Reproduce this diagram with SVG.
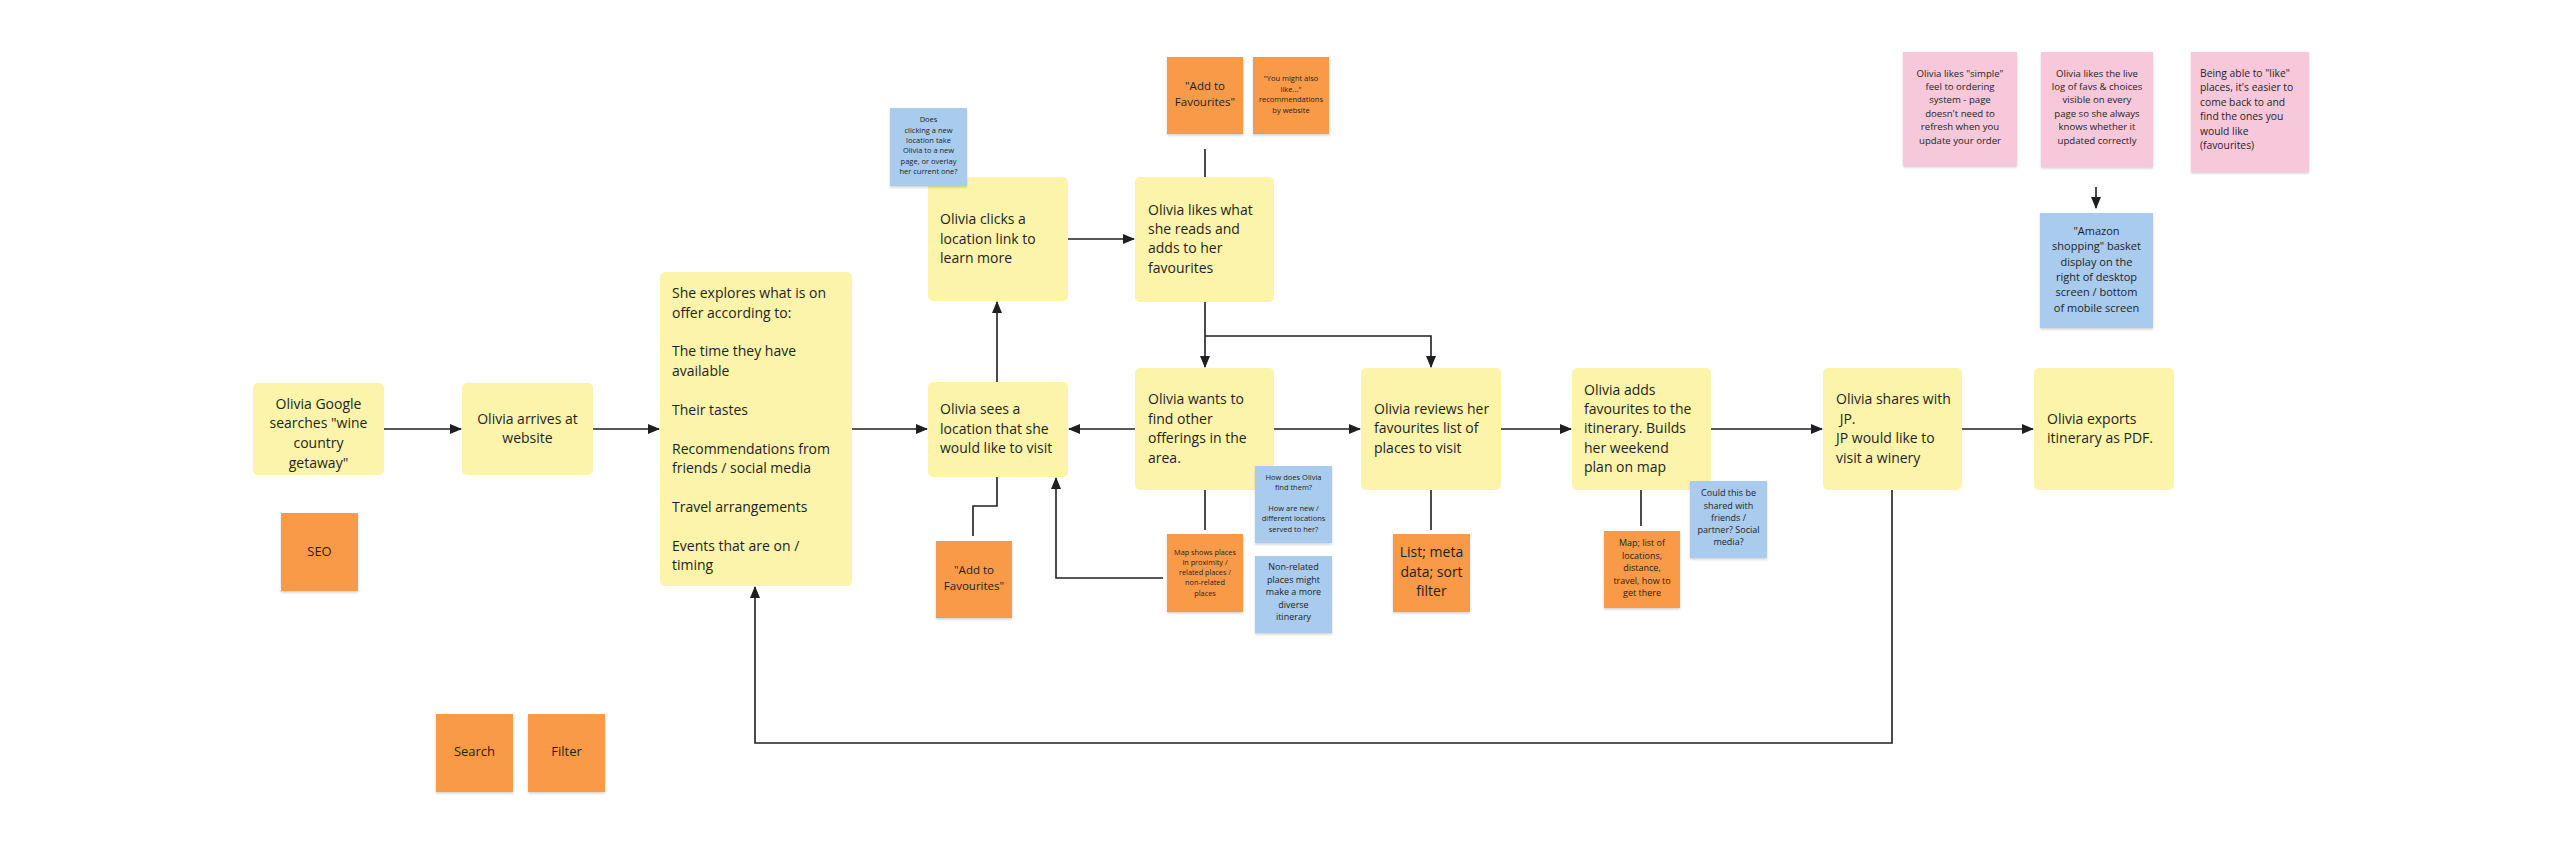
<svg xmlns="http://www.w3.org/2000/svg" width="2561" height="841" viewBox="0 0 2561 841">
<style>
text{font-family:"Open Sans","Liberation Sans",sans-serif;fill:#1f1f1f}
.y{fill:#fbf4aa}
.o{fill:#f99a4a;filter:url(#sh)}
.b{fill:#a8cbee;filter:url(#sh)}
.p{fill:#f7c8da;filter:url(#sh)}
.t14{font-size:14px}
.c{text-anchor:middle}
.ln{fill:none;stroke:#1f1f1f;stroke-width:1.6}
.ar{marker-end:url(#ah)}
</style>
<defs>
<filter id="sh" x="-10%" y="-10%" width="130%" height="130%"><feDropShadow dx="0" dy="1.5" stdDeviation="1.2" flood-color="#000" flood-opacity="0.18"/></filter>
<marker id="ah" markerWidth="12" markerHeight="10" refX="11" refY="5" orient="auto" markerUnits="userSpaceOnUse"><path d="M0,0 L12,5 L0,10 z" fill="#1f1f1f"/></marker>
</defs>
<rect width="2561" height="841" fill="#ffffff"/>

<g id="connectors">
<path class="ln ar" d="M384,429 H461"/>
<path class="ln ar" d="M593,429 H659"/>
<path class="ln ar" d="M852,429 H927"/>
<path class="ln ar" d="M997,382 V302"/>
<path class="ln ar" d="M1068,239 H1134"/>
<path class="ln" d="M1205,149 V177"/>
<path class="ln ar" d="M1205,302 V367"/>
<path class="ln ar" d="M1205,336 H1431 V367"/>
<path class="ln ar" d="M1135,429 H1069"/>
<path class="ln ar" d="M1274,429 H1360"/>
<path class="ln ar" d="M1501,429 H1571"/>
<path class="ln ar" d="M1711,429 H1822"/>
<path class="ln ar" d="M1962,429 H2033"/>
<path class="ln" d="M1205,490 V530"/>
<path class="ln ar" d="M1163,578 H1056 V478"/>
<path class="ln" d="M973,536 V506 H997 V477"/>
<path class="ln" d="M1431,490 V530"/>
<path class="ln" d="M1641,490 V526"/>
<path class="ln ar" d="M1892,490 V743 H755 V587"/>
<path class="ln ar" d="M2096,187 V208"/>
</g>

<g id="n-google"><rect class="y" x="253" y="383" width="131" height="92" rx="5"/>
<text class="t14 c"><tspan x="318.5" y="409">Olivia Google</tspan><tspan x="318.5" y="428">searches "wine</tspan><tspan x="318.5" y="448">country</tspan><tspan x="318.5" y="468">getaway"</tspan></text></g>

<g id="n-arrives"><rect class="y" x="462" y="383" width="131" height="92" rx="5"/>
<text class="t14 c"><tspan x="527.5" y="424">Olivia arrives at</tspan><tspan x="527.5" y="443">website</tspan></text></g>

<g id="n-explores"><rect class="y" x="660" y="272" width="192" height="314" rx="5"/>
<text class="t14"><tspan x="672" y="298">She explores what is on</tspan><tspan x="672" y="317.5">offer according to:</tspan><tspan x="672" y="356.4">The time they have</tspan><tspan x="672" y="375.8">available</tspan><tspan x="672" y="414.7">Their tastes</tspan><tspan x="672" y="453.6">Recommendations from</tspan><tspan x="672" y="473">friends / social media</tspan><tspan x="672" y="512">Travel arrangements</tspan><tspan x="672" y="550.9">Events that are on /</tspan><tspan x="672" y="570.3">timing</tspan></text></g>

<g id="n-clicks"><rect class="y" x="928" y="177" width="140" height="124" rx="5"/>
<text class="t14"><tspan x="940" y="224">Olivia clicks a</tspan><tspan x="940" y="244">location link to</tspan><tspan x="940" y="263">learn more</tspan></text></g>

<g id="n-likes"><rect class="y" x="1135" y="177" width="139" height="125" rx="5"/>
<text class="t14"><tspan x="1148" y="215">Olivia likes what</tspan><tspan x="1148" y="234">she reads and</tspan><tspan x="1148" y="253">adds to her</tspan><tspan x="1148" y="273">favourites</tspan></text></g>

<g id="n-sees"><rect class="y" x="928" y="382" width="140" height="95" rx="5"/>
<text class="t14"><tspan x="940" y="414">Olivia sees a</tspan><tspan x="940" y="434">location that she</tspan><tspan x="940" y="453">would like to visit</tspan></text></g>

<g id="n-wants"><rect class="y" x="1135" y="368" width="139" height="122" rx="5"/>
<text class="t14"><tspan x="1148" y="404">Olivia wants to</tspan><tspan x="1148" y="424">find other</tspan><tspan x="1148" y="443">offerings in the</tspan><tspan x="1148" y="463">area.</tspan></text></g>

<g id="n-reviews"><rect class="y" x="1361" y="368" width="140" height="122" rx="5"/>
<text class="t14"><tspan x="1374" y="414">Olivia reviews her</tspan><tspan x="1374" y="433">favourites list of</tspan><tspan x="1374" y="453">places to visit</tspan></text></g>

<g id="n-adds"><rect class="y" x="1572" y="368" width="139" height="122" rx="5"/>
<text class="t14"><tspan x="1584" y="395">Olivia adds</tspan><tspan x="1584" y="414">favourites to the</tspan><tspan x="1584" y="433">itinerary. Builds</tspan><tspan x="1584" y="453">her weekend</tspan><tspan x="1584" y="472">plan on map</tspan></text></g>

<g id="n-shares"><rect class="y" x="1823" y="368" width="139" height="122" rx="5"/>
<text class="t14"><tspan x="1836" y="404">Olivia shares with</tspan><tspan x="1836" y="424"> JP.</tspan><tspan x="1836" y="443">JP would like to</tspan><tspan x="1836" y="463">visit a winery</tspan></text></g>

<g id="n-exports"><rect class="y" x="2034" y="368" width="140" height="122" rx="5"/>
<text class="t14"><tspan x="2047" y="424">Olivia exports</tspan><tspan x="2047" y="443">itinerary as PDF.</tspan></text></g>

<g id="s-seo"><rect class="o" x="281" y="513" width="77" height="78"/>
<text class="c" font-size="13"><tspan x="319.5" y="556">SEO</tspan></text></g>
<g id="s-search"><rect class="o" x="436" y="714" width="77" height="78"/>
<text class="c" font-size="13"><tspan x="474.5" y="756">Search</tspan></text></g>
<g id="s-filter"><rect class="o" x="528" y="714" width="77" height="78"/>
<text class="c" font-size="13"><tspan x="566.5" y="756">Filter</tspan></text></g>

<g id="s-does"><rect class="b" x="890" y="108" width="77" height="78"/>
<text class="c" font-size="7.5"><tspan x="928.5" y="122">Does</tspan><tspan x="928.5" y="133">clicking a new</tspan><tspan x="928.5" y="143">location take</tspan><tspan x="928.5" y="153">Olivia to a new</tspan><tspan x="928.5" y="164">page, or overlay</tspan><tspan x="928.5" y="174">her current one?</tspan></text></g>

<g id="s-addtop"><rect class="o" x="1167" y="57" width="76" height="77"/>
<text class="c" font-size="11.5"><tspan x="1205" y="90">"Add to</tspan><tspan x="1205" y="106">Favourites"</tspan></text></g>

<g id="s-youmight"><rect class="o" x="1253" y="57" width="76" height="77"/>
<text class="c" font-size="7.5"><tspan x="1291" y="81">"You might also</tspan><tspan x="1291" y="92">like..."</tspan><tspan x="1291" y="102">recommendations</tspan><tspan x="1291" y="113">by website</tspan></text></g>

<g id="s-addbottom"><rect class="o" x="936" y="541" width="76" height="77"/>
<text class="c" font-size="11.5"><tspan x="974" y="574">"Add to</tspan><tspan x="974" y="590">Favourites"</tspan></text></g>

<g id="s-mapshows"><rect class="o" x="1167" y="534" width="76" height="78"/>
<text class="c" font-size="7.3"><tspan x="1205" y="555">Map shows places</tspan><tspan x="1205" y="565">in proximity /</tspan><tspan x="1205" y="575">related places /</tspan><tspan x="1205" y="585">non-related</tspan><tspan x="1205" y="596">places</tspan></text></g>

<g id="s-howdoes"><rect class="b" x="1255" y="466" width="77" height="77"/>
<text class="c" font-size="7.5"><tspan x="1293.5" y="480">How does Olivia</tspan><tspan x="1293.5" y="490">find them?</tspan><tspan x="1293.5" y="511">How are new /</tspan><tspan x="1293.5" y="521">different locations</tspan><tspan x="1293.5" y="532">served to her?</tspan></text></g>

<g id="s-nonrelated"><rect class="b" x="1255" y="556" width="77" height="77"/>
<text class="c" font-size="9"><tspan x="1293.5" y="570">Non-related</tspan><tspan x="1293.5" y="582.5">places might</tspan><tspan x="1293.5" y="595">make a more</tspan><tspan x="1293.5" y="607.5">diverse</tspan><tspan x="1293.5" y="620">itinerary</tspan></text></g>

<g id="s-listmeta"><rect class="o" x="1393" y="534" width="77" height="78"/>
<text class="c t14"><tspan x="1431.5" y="557">List; meta</tspan><tspan x="1431.5" y="577">data; sort</tspan><tspan x="1431.5" y="596">filter</tspan></text></g>

<g id="s-maplist"><rect class="o" x="1604" y="531" width="76" height="77"/>
<text class="c" font-size="9"><tspan x="1642" y="546">Map; list of</tspan><tspan x="1642" y="559">locations,</tspan><tspan x="1642" y="571">distance,</tspan><tspan x="1642" y="584">travel, how to</tspan><tspan x="1642" y="596">get there</tspan></text></g>

<g id="s-could"><rect class="b" x="1690" y="481" width="77" height="77"/>
<text class="c" font-size="9"><tspan x="1728.5" y="496">Could this be</tspan><tspan x="1728.5" y="509">shared with</tspan><tspan x="1728.5" y="521">friends /</tspan><tspan x="1728.5" y="533">partner? Social</tspan><tspan x="1728.5" y="545">media?</tspan></text></g>

<g id="s-pink1"><rect class="p" x="1903" y="52" width="114" height="114"/>
<text class="c" font-size="9.6"><tspan x="1960" y="76.5">Olivia likes "simple"</tspan><tspan x="1960" y="90">feel to ordering</tspan><tspan x="1960" y="103.4">system - page</tspan><tspan x="1960" y="116.8">doesn't need to</tspan><tspan x="1960" y="130.2">refresh when you</tspan><tspan x="1960" y="143.6">update your order</tspan></text></g>

<g id="s-pink2"><rect class="p" x="2041" y="52" width="112" height="115"/>
<text class="c" font-size="9.6"><tspan x="2097" y="76.5">Olivia likes the live</tspan><tspan x="2097" y="90">log of favs &amp; choices</tspan><tspan x="2097" y="103.4">visible on every</tspan><tspan x="2097" y="116.8">page so she always</tspan><tspan x="2097" y="130.2">knows whether it</tspan><tspan x="2097" y="143.6">updated correctly</tspan></text></g>

<g id="s-pink3"><rect class="p" x="2191" y="52" width="118" height="120"/>
<text font-size="10.3"><tspan x="2200" y="76.7">Being able to "like"</tspan><tspan x="2200" y="91.2">places, it's easier to</tspan><tspan x="2200" y="105.7">come back to and</tspan><tspan x="2200" y="120.2">find the ones you</tspan><tspan x="2200" y="134.7">would like</tspan><tspan x="2200" y="149.2">(favourites)</tspan></text></g>

<g id="s-amazon"><rect class="b" x="2040" y="213" width="113" height="115"/>
<text class="c" font-size="11"><tspan x="2096.5" y="235">"Amazon</tspan><tspan x="2096.5" y="250.3">shopping" basket</tspan><tspan x="2096.5" y="265.6">display on the</tspan><tspan x="2096.5" y="280.9">right of desktop</tspan><tspan x="2096.5" y="296.2">screen / bottom</tspan><tspan x="2096.5" y="311.5">of mobile screen</tspan></text></g>
</svg>
